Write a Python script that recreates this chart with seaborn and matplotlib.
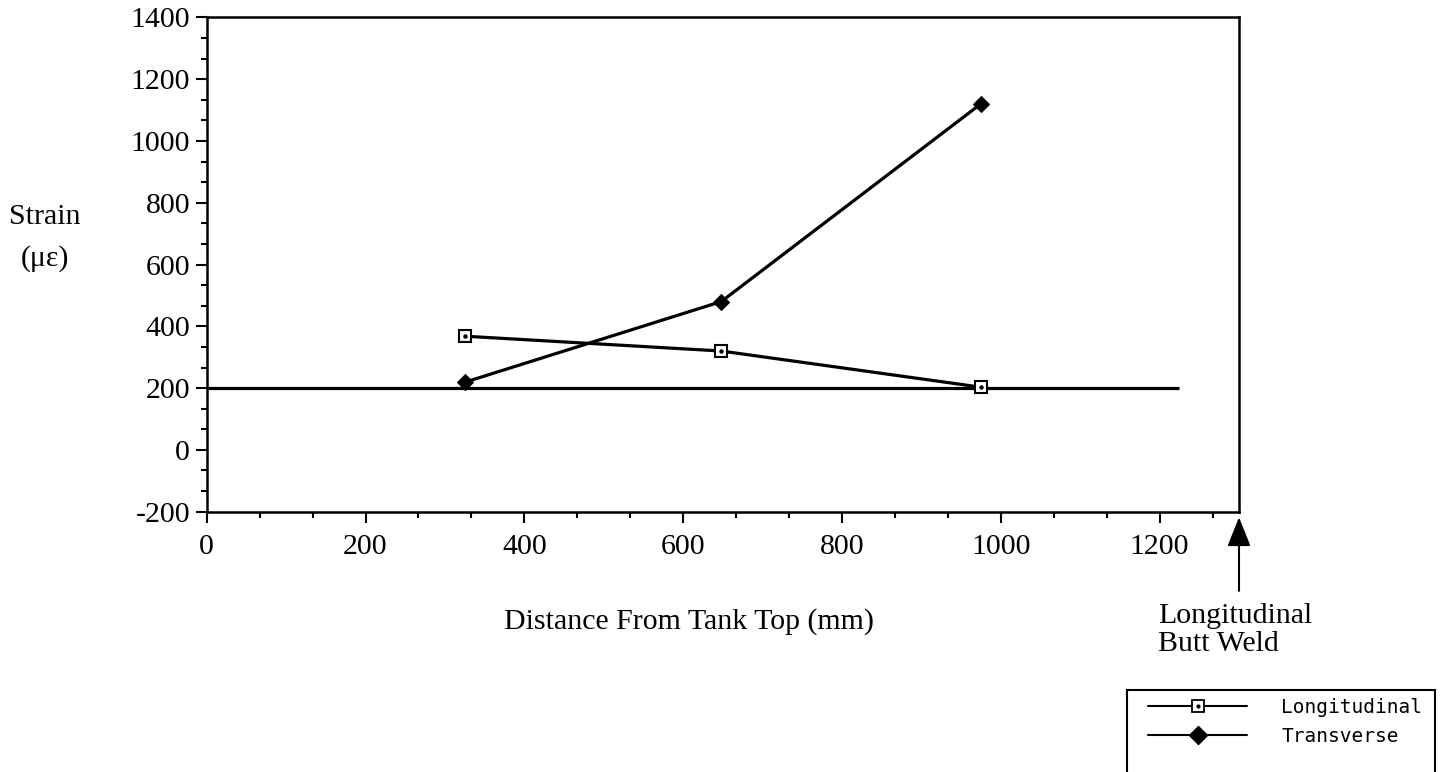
import matplotlib
matplotlib.use("Agg")
import matplotlib.pyplot as plt
import seaborn as sns
import pandas as pd
from matplotlib.lines import Line2D
from matplotlib.patches import Rectangle
from matplotlib.legend_handler import HandlerTuple
from matplotlib.ticker import AutoMinorLocator

# ---- data ----
distance = [325, 648, 975]
longitudinal = [368, 320, 203]
transverse = [219, 480, 1120]
baseline_value = 200
baseline_end = 1225
weld_position = 1300
x_ticks = [0, 200, 400, 600, 800, 1000, 1200]
y_ticks = [-200, 0, 200, 400, 600, 800, 1000, 1200, 1400]
series_names = ["Longitudinal", "Transverse"]

sns.set_style("ticks")
plt.rcParams['font.family'] = ['Liberation Serif', 'DejaVu Serif']
plt.rcParams['axes.unicode_minus'] = False
plt.rcParams['text.color'] = 'black'
plt.rcParams['axes.labelcolor'] = 'black'
plt.rcParams['xtick.color'] = 'black'
plt.rcParams['ytick.color'] = 'black'

df = pd.DataFrame({
    "distance": distance * 2,
    "strain": longitudinal + transverse,
    "series": [series_names[0]] * len(distance) + [series_names[1]] * len(distance),
})

fig = plt.figure(figsize=(14.4, 7.72), dpi=100)
ax = fig.add_axes([0.14354, 0.33718, 0.71688, 0.6404])

LW = 2.3
sns.lineplot(data=df[df.series == series_names[0]], x="distance", y="strain",
             ax=ax, color="black", linewidth=LW, marker="s", markersize=8,
             markerfacecolor="white", markeredgecolor="black", markeredgewidth=1.5,
             legend=False, zorder=4)
ax.plot(distance, longitudinal, linestyle="none", marker="o", markersize=2.2,
        color="black", zorder=5)
sns.lineplot(data=df[df.series == series_names[1]], x="distance", y="strain",
             ax=ax, color="black", linewidth=LW, marker="D", markersize=8,
             markerfacecolor="black", markeredgecolor="black",
             legend=False, zorder=4)

ax.hlines(baseline_value, 0, baseline_end, color="black", linewidth=LW, zorder=3)

ax.set_xlim(0, weld_position)
ax.set_ylim(-200, 1400)
ax.set_xticks(x_ticks)
ax.set_yticks(y_ticks)
ax.xaxis.set_minor_locator(AutoMinorLocator(3))
ax.yaxis.set_minor_locator(AutoMinorLocator(3))
ax.tick_params(axis="both", which="major", length=8, width=1.5, labelsize=21.5,
               color="black", labelcolor="black", direction="out")
ax.tick_params(axis="both", which="minor", length=4.5, width=1.5, color="black",
               direction="out")
ax.tick_params(axis="x", which="major", pad=8)
ax.tick_params(axis="y", which="major", pad=4)
for s in ax.spines.values():
    s.set_linewidth(1.8)
    s.set_color("black")
    s.set_visible(True)

ax.set_xlabel("Distance From Tank Top (mm)", fontsize=21.5, va="center", color="black")
ax.xaxis.set_label_coords(0.467, -0.222)
ax.set_ylabel("Strain\n(\u03bc\u03b5)", fontsize=21.5, rotation=0, ha="center",
              va="center", linespacing=1.75, color="black")
ax.yaxis.set_label_coords(-0.1566, 0.5536)

# weld marker arrow + text
ax.annotate("", xy=(weld_position, -200), xycoords="data",
            xytext=(0, -57), textcoords="offset points",
            arrowprops=dict(arrowstyle="-|>,head_length=1.0,head_width=0.4",
                            mutation_scale=18, lw=1.5, color="black",
                            shrinkA=0, shrinkB=4),
            annotation_clip=False)
fig.text(1158 / 1440, 1 - 603 / 772, "Longitudinal\nButt Weld", fontsize=21.5,
         ha="left", va="top", linespacing=1.08, color="black")

# legend
h_long = (Line2D([], [], color="black", lw=1.5, marker="s", markersize=8,
                 markerfacecolor="white", markeredgecolor="black", markeredgewidth=1.3),
          Line2D([], [], color="black", lw=0, marker="o", markersize=2))
h_trans = Line2D([], [], color="black", lw=1.5, marker="D", markersize=9,
                 markerfacecolor="black")
fig.legend([h_long, h_trans], series_names, loc="upper left",
           bbox_to_anchor=(1148 / 1440, 1 - 698 / 772), frameon=False,
           borderpad=0, borderaxespad=0, handlelength=5.1, handletextpad=1.75,
           labelspacing=0.5, prop={"family": "DejaVu Sans Mono", "size": 14},
           handler_map={tuple: HandlerTuple(ndivide=1)})
fig.add_artist(Rectangle((1127 / 1440, -20 / 772), 308 / 1440, (772 - 690 + 20) / 772,
                         transform=fig.transFigure, fill=False, lw=1.5,
                         edgecolor="black"))

fig.savefig("out.png", dpi=100)
